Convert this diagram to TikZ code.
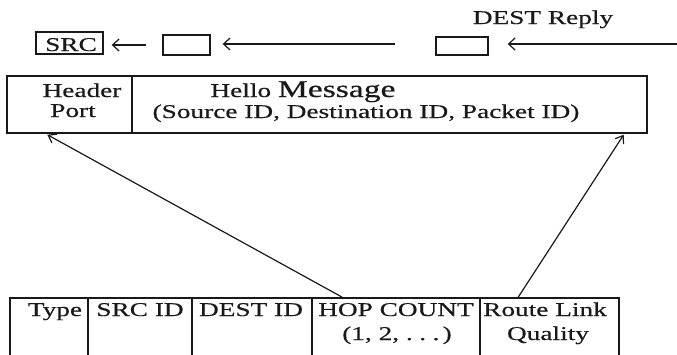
\documentclass[tikz,border=0pt]{standalone}
\usepackage{fontspec}
\setmainfont{Liberation Serif}[FakeStretch=1.4,FakeBold=0.5]
\usetikzlibrary{arrows.meta,calc}
\definecolor{ink}{RGB}{25,25,25}

\begin{document}
\begin{tikzpicture}[x=1pt,y=-1pt,
  every node/.style={text=ink},
  frame/.style={draw=ink, line width=1.4pt, inner sep=0pt,
    minimum width=#1},
  cell/.style={draw=ink, line width=1.6pt, inner sep=0pt,
    minimum width=#1, minimum height=70pt},
  lbl/.style={anchor=base, inner sep=0pt,
    font=\fontsize{19.5}{20}\selectfont},
  barb/.style={draw=ink, line width=1.2pt,
    -{Straight Barb[length=6.5pt,width=12pt,line width=1.2pt]}},
  link/.style={draw=ink, line width=1.2pt,
    -{Straight Barb[length=7pt,width=10pt,line width=1.2pt]}}]

\useasboundingbox (0,0) rectangle (677,354);

% reply path along the top
\node[lbl] (reply) at (543,24) {DEST Reply};
\node[frame=67pt, minimum height=22pt] (src) at (69.5,43) {};
\node[lbl] (srctext) at (71,51) {SRC};
\node[frame=47pt, minimum height=20pt] (hopa) at (186.5,45) {};
\node[frame=52pt, minimum height=18pt] (hopb) at (462,46) {};
\coordinate (dest) at (677,44);

\draw[barb, shorten <=16pt, shorten >=8pt] (hopa.west |- 0,45) -- (src.east |- 0,45);
\draw[barb, shorten <=40pt, shorten >=12pt] (hopb.west |- 0,44) -- (hopa.east |- 0,44);
\draw[barb, shorten >=19pt] (dest) -- (hopb.east |- 0,44);

% hello message header
\node[frame=125pt, minimum height=57pt] (port) at (69.5,104.5) {};
\node[frame=515pt, minimum height=57pt] (msg) at (389.5,104.5) {};
\node[lbl] at (82,97) {Header};
\node[lbl] at (73,117) {Port};
\node[lbl] at (303,97) {Hello {\fontsize{24}{24}\selectfont Message}};
\node[lbl] at (366,118) {(Source ID, Destination ID, Packet ID)};

% packet fields
\node[cell=78pt]  (type)  at (49,333) {};
\node[cell=104pt] (sid)   at (140,333) {};
\node[cell=120pt] (did)   at (252,333) {};
\node[cell=168pt] (hop)   at (396,333) {};
\node[cell=139pt] (route) at (549.5,333) {};
\node[lbl] at (55,316) {Type};
\node[lbl] at (140,316) {SRC ID};
\node[lbl] at (251,316) {DEST ID};
\node[lbl] at (396,316) {HOP COUNT};
\node[lbl] at (397,340) {(1, 2, .\,\,.\,\,.\,)};
\node[lbl] at (545,316) {Route Link};
\node[lbl] at (548,340) {Quality};

% field-to-header links
\draw[link] ($(hop.north west)+(31,0)$) -- ($(port.south west)+(41,1)$);
\draw[link] ($(route.north west)+(39,0)$) -- ($(msg.south east)+(-24,1)$);
\end{tikzpicture}
\end{document}
